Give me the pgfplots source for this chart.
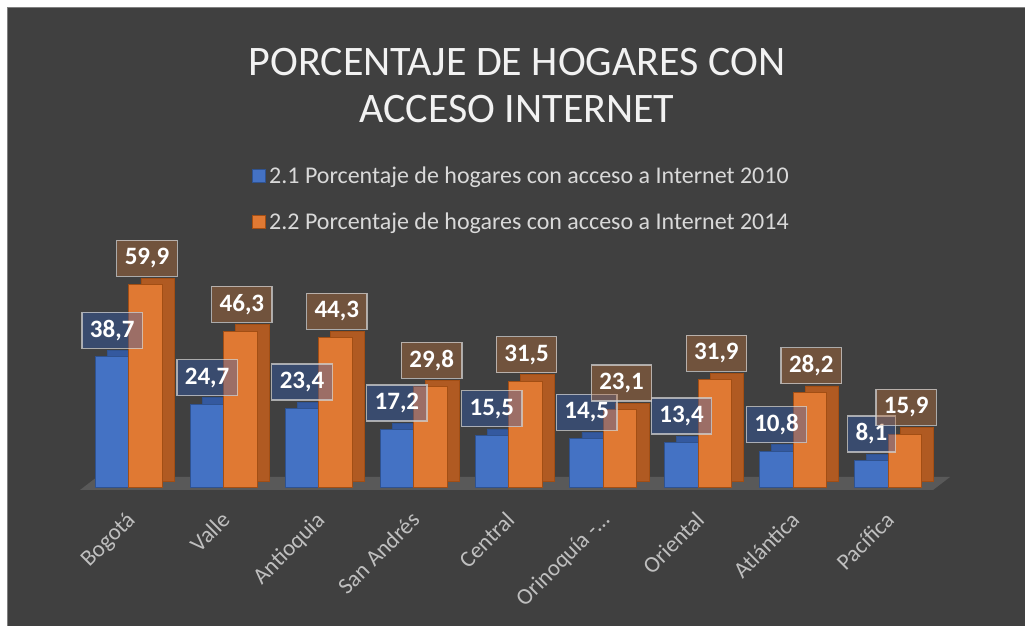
\documentclass[border=0pt]{standalone}
\usepackage{fontspec}
\setmainfont{Carlito}
\usepackage{pgfplots}
\usepackage{pgfplotstable}
\pgfplotsset{compat=1.18}

\definecolor{bg}{HTML}{404040}
\definecolor{floorc}{HTML}{595959}
\definecolor{bluefront}{HTML}{4472C4}
\definecolor{blueside}{HTML}{34599F}
\definecolor{blueborder}{HTML}{2F528F}
\definecolor{orangefront}{HTML}{E07933}
\definecolor{orangeside}{HTML}{B05A22}
\definecolor{orangeborder}{HTML}{A24E14}
\definecolor{bluelab}{RGB}{46,94,186}
\definecolor{orangelab}{RGB}{195,115,58}
\definecolor{labborder}{HTML}{D0D0D0}
\definecolor{titlec}{HTML}{F2F2F2}
\definecolor{legendc}{HTML}{D9D9D9}
\definecolor{tickc}{HTML}{BFBFBF}

\pgfplotstableread{
x a b
0 38.7 59.9
1 24.7 46.3
2 23.4 44.3
3 17.2 29.8
4 15.5 31.5
5 14.5 23.1
6 13.4 31.9
7 10.8 28.2
8 8.1 15.9
}\data

\tikzset{
  labstyle/.style={anchor=south, yshift=8pt, fill=#1, fill opacity=0.38, text opacity=1,
    draw=labborder, draw opacity=0.75, line width=1.3pt, inner xsep=8pt, minimum height=36pt,
    font=\bfseries\fontsize{25}{25}\selectfont, text=white},
}

\begin{document}
\begin{tikzpicture}[x=1pt,y=1pt]
\path[use as bounding box, fill=white] (0,0) rectangle (1025,626);
\fill[bg] (7,0) rectangle (1025,619);
\draw[color=gray, line width=1pt] (7.5,0) -- (7.5,618.5) -- (1025,618.5);
\fill[floorc] (80,136) -- (933,136) -- (950,149) -- (97,149) -- cycle;
\node[font=\fontsize{42}{42}\selectfont, text=titlec, anchor=base] at (517,550.5) {PORCENTAJE DE HOGARES CON};
\node[font=\fontsize{42}{42}\selectfont, text=titlec, anchor=base] at (517,503.5) {ACCESO INTERNET};
\begin{axis}[
  at={(81.5pt,138pt)}, anchor=south west,
  scale only axis, width=863.6pt, height=237.3pt,
  xmin=-0.5, xmax=8.6, ymin=0, ymax=70,
  clip=false,
  axis line style={draw=none},
  ytick=\empty,
  xtick={0,...,8},
  xticklabels={Bogotá, Valle, Antioquia, San Andrés, Central, Orinoquía -…, Oriental, Atlántica, Pacífica},
  major tick length=0pt,
  xticklabel style={xshift=-4pt, yshift=-22pt, rotate=45, anchor=north east, inner sep=0pt, font=\fontsize{23}{23}\selectfont, text=tickc},
  legend style={at={(0.510,1.218)}, anchor=center, draw=none, fill=none,
    font=\fontsize{24}{24}\selectfont, text=legendc, row sep=24pt,
    nodes={inner xsep=3pt}},
  legend cell align=left,
  /pgf/number format/assume math mode=true,
]
\addplot[ybar, bar width=0.353, bar shift=-0.1765, fill=blueside, draw=blueborder, line width=0.8pt, xshift=12pt, yshift=6.5pt, forget plot] table[x=x,y=a]{\data};
\addplot[ybar, bar width=0.353, bar shift=-0.1765, fill=bluefront, draw=blueborder, line width=1pt,
  legend image code/.code={\draw[fill=bluefront, draw=blueborder, line width=1pt] (0pt,-6.5pt) rectangle (13pt,6.5pt);}] table[x=x,y=a]{\data};
\addlegendentry{2.1 Porcentaje de hogares con acceso a Internet 2010}
\addplot[ybar, bar width=0.353, bar shift=0.1765, fill=orangeside, draw=orangeborder, line width=0.8pt, xshift=12pt, yshift=6.5pt, forget plot] table[x=x,y=b]{\data};
\addplot[ybar, bar width=0.353, bar shift=0.1765, fill=orangefront, draw=orangeborder, line width=1pt,
  legend image code/.code={\draw[fill=orangefront, draw=orangeborder, line width=1pt] (0pt,-6.5pt) rectangle (13pt,6.5pt);}] table[x=x,y=b]{\data};
\addlegendentry{2.2 Porcentaje de hogares con acceso a Internet 2014}
\addplot[draw=none, mark=none, forget plot,
  nodes near coords={\pgfmathprintnumber[fixed, precision=1, zerofill, use comma]{\pgfplotspointmeta}},
  nodes near coords style={labstyle=bluelab}] table[x expr=\thisrow{x}-0.1765, y=a]{\data};
\addplot[draw=none, mark=none, forget plot,
  nodes near coords={\pgfmathprintnumber[fixed, precision=1, zerofill, use comma]{\pgfplotspointmeta}},
  nodes near coords style={labstyle=orangelab}] table[x expr=\thisrow{x}+0.19, y=b]{\data};
\end{axis}
\end{tikzpicture}
\end{document}
